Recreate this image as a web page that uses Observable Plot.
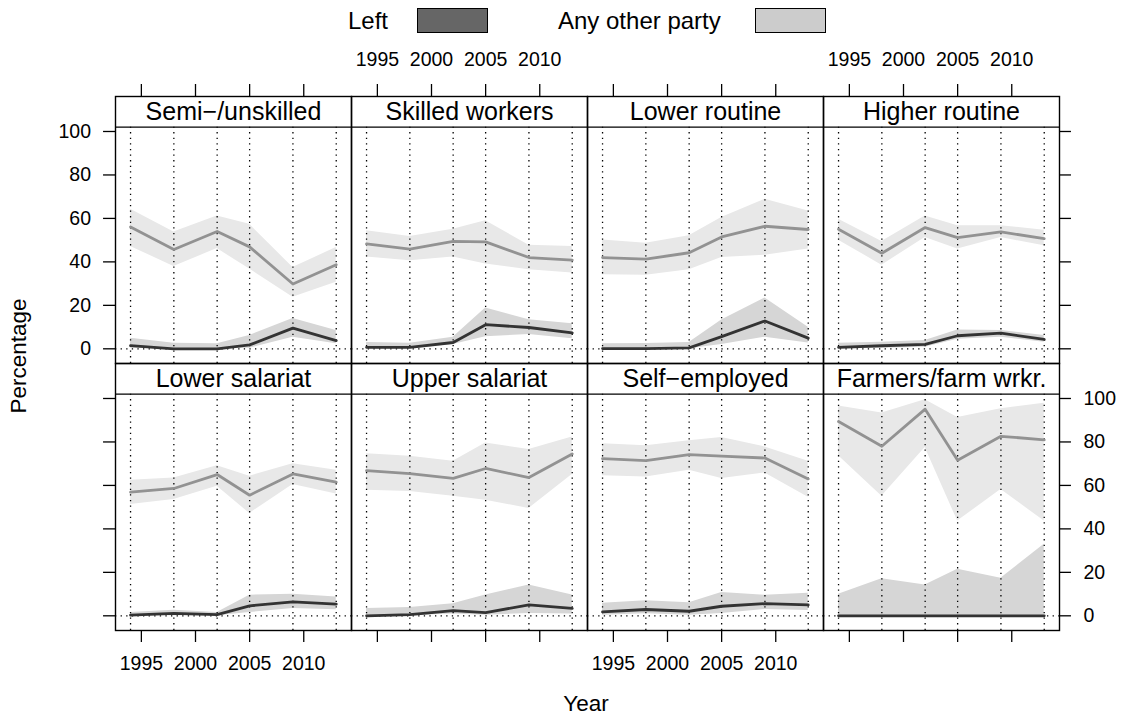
<!DOCTYPE html>
<html><head><meta charset="utf-8">
<script src="https://cdn.jsdelivr.net/npm/d3@7"></script>
<script src="https://cdn.jsdelivr.net/npm/@observablehq/plot@0.6"></script>
<style>
body{margin:0;background:#fff;font-family:"Liberation Sans",Arial,Helvetica,sans-serif;}
#wrap{position:relative;width:1126px;height:717px;overflow:hidden;}
#wrap svg{position:absolute;left:0;top:0;}
.lg{position:absolute;font-size:24px;line-height:25px;color:#000;white-space:nowrap;}
.ax{position:absolute;font-size:22.5px;line-height:24px;color:#000;white-space:nowrap;}
.box{position:absolute;border:1.3px solid #000;box-sizing:border-box;}
</style></head><body><div id="wrap"></div>
<script>
// ---- data ----
const years = [1994, 1998, 2002, 2005, 2009, 2013];
const classes = ["Semi\u2212/unskilled", "Skilled workers", "Lower routine", "Higher routine",
                 "Lower salariat", "Upper salariat", "Self\u2212employed", "Farmers/farm wrkr."];
const parties = ["Left", "Any other party"];
const xTicks = [1995, 2000, 2005, 2010];
const yTicks = [0, 20, 40, 60, 80, 100];

const leftEst = [
  [1.5, 0, 0, 1.8, 9.5, 3.8],
  [0.7, 0.7, 2.9, 11.1, 9.8, 7.3],
  [0.1, 0.1, 0.4, 5.6, 12.8, 4.9],
  [0.7, 1.4, 2.0, 6.0, 7.2, 4.3],
  [0.3, 1.1, 0.5, 4.6, 6.4, 5.4],
  [0, 0.5, 2.4, 1.5, 5.0, 3.4],
  [1.8, 2.9, 2.1, 4.4, 5.6, 5.0],
  [0, 0, 0, 0, 0, 0]
];
const leftLo = [
  [0.3, 0, 0, 0.3, 5.3, 2.3],
  [0, 0, 2.0, 5.6, 6.6, 4.6],
  [0, 0, 0, 2.0, 5.3, 2.7],
  [0, 0.3, 0.7, 4.4, 5.3, 3.0],
  [0, 0, 0, 1.5, 3.4, 2.8],
  [0, 0, 0.8, 0.3, 1.1, 0.8],
  [0.3, 0.9, 0.3, 1.1, 2.9, 2.4],
  [0, 0, 0, 0, 0, 0]
];
const leftHi = [
  [4.9, 2.6, 2.3, 6.1, 14.0, 8.4],
  [2.9, 2.6, 5.3, 18.8, 13.4, 11.5],
  [2.3, 2.4, 2.9, 13.3, 23.4, 9.9],
  [2.6, 3.0, 3.8, 8.7, 8.4, 6.1],
  [1.5, 2.6, 1.5, 9.5, 9.9, 8.7],
  [3.4, 3.8, 5.6, 9.6, 14.2, 9.6],
  [5.8, 6.9, 6.0, 10.7, 9.5, 10.4],
  [9.9, 17.1, 14.2, 21.4, 17.3, 32.9]
];
const otherEst = [
  [56.1, 45.7, 54.0, 46.9, 29.8, 38.7],
  [48.3, 45.9, 49.4, 49.2, 42.0, 40.8],
  [42.0, 41.3, 44.2, 51.5, 56.4, 54.9],
  [55.0, 44.0, 55.8, 51.2, 53.8, 50.7],
  [56.9, 58.6, 65.0, 55.5, 65.3, 61.5],
  [66.8, 65.4, 63.2, 67.8, 63.6, 74.5],
  [72.3, 71.4, 74.2, 73.5, 72.6, 63.0],
  [89.4, 78.0, 95.1, 71.6, 82.6, 81.0]
];
const otherLo = [
  [47.1, 37.9, 46.1, 36.7, 23.7, 30.6],
  [42.3, 40.5, 42.3, 39.0, 36.4, 34.9],
  [34.1, 33.8, 36.4, 42.0, 43.1, 45.9],
  [50.0, 38.5, 51.2, 45.9, 51.2, 47.4],
  [51.2, 53.5, 59.6, 47.1, 60.4, 56.1],
  [57.8, 57.2, 55.0, 53.2, 49.4, 65.0],
  [64.5, 63.9, 67.0, 63.2, 65.7, 54.6],
  [73.7, 55.0, 77.5, 43.6, 58.1, 43.6]
];
const otherHi = [
  [64.2, 53.8, 61.1, 57.3, 37.4, 46.6],
  [54.3, 51.7, 55.0, 58.9, 47.7, 47.1],
  [50.1, 48.6, 52.0, 60.4, 68.8, 63.4],
  [59.6, 49.4, 61.1, 56.6, 56.6, 54.6],
  [62.4, 63.4, 69.1, 64.2, 70.0, 67.0],
  [74.6, 73.4, 71.1, 79.5, 76.5, 82.3],
  [79.2, 78.3, 80.6, 82.1, 77.7, 71.1],
  [96.6, 93.3, 99.4, 91.3, 95.3, 97.8]
];

// ---- build table ----
const rows = [];
classes.forEach((c, i) => {
  years.forEach((yr, j) => {
    rows.push({cls: c, col: i % 4, row: Math.floor(i / 4), year: yr, party: parties[0],
               est: leftEst[i][j], lo: leftLo[i][j], hi: leftHi[i][j]});
    rows.push({cls: c, col: i % 4, row: Math.floor(i / 4), year: yr, party: parties[1],
               est: otherEst[i][j], lo: otherLo[i][j], hi: otherHi[i][j]});
  });
});
const leftRows = rows.filter(d => d.party === parties[0]);
const otherRows = rows.filter(d => d.party === parties[1]);
const panels = classes.map((c, i) => ({cls: c, col: i % 4, row: Math.floor(i / 4)}));

// geometry (scale domains)
const X0 = 1992.61, X1 = 2014.41;
const Y0 = -6.76, YB = 102, Y1 = 116.1;
const pxX = 236.75 / (X1 - X0), pxY = 267.2 / (Y1 - Y0);
const TL = 12; // tick length px

const topT = [], botT = [], leftT = [], rightT = [];
for (let c = 0; c < 4; c++) for (const v of xTicks) {
  topT.push({col: c, row: 0, v, lab: c % 2 === 1});
  botT.push({col: c, row: 1, v, lab: c % 2 === 0});
}
for (let r = 0; r < 2; r++) for (const v of yTicks) {
  leftT.push({col: 0, row: r, v, lab: r === 0});
  rightT.push({col: 3, row: r, v, lab: r === 1});
}

const dotted = {stroke: "#000", strokeWidth: 1.3, strokeDasharray: "1.3,4.3"};
const fs = 19.5;

const chart = Plot.plot({
  width: 1126, height: 717,
  marginLeft: 113, marginRight: 66, marginTop: 95.7, marginBottom: 717 - 630.1,
  x: {domain: [X0, X1], axis: null},
  y: {domain: [Y0, Y1], axis: null},
  fx: {domain: [0, 1, 2, 3], padding: 0, axis: null},
  fy: {domain: [0, 1], padding: 0, axis: null},
  style: {fontFamily: "'Liberation Sans', Arial, Helvetica, sans-serif", background: "white", overflow: "visible"},
  marks: [
    Plot.areaY(otherRows, {x: "year", y1: "lo", y2: "hi", fx: "col", fy: "row", z: "cls", fill: "#e8e8e8"}),
    Plot.areaY(leftRows, {x: "year", y1: "lo", y2: "hi", fx: "col", fy: "row", z: "cls", fill: "#d6d6d6"}),
    Plot.ruleX(years, {x: d => d, y1: Y0, y2: YB, ...dotted}),
    Plot.ruleY([0], {y: d => d, x1: X0, x2: X1, ...dotted}),
    Plot.line(otherRows, {x: "year", y: "est", fx: "col", fy: "row", z: "cls", stroke: "#929292", strokeWidth: 2.8}),
    Plot.line(leftRows, {x: "year", y: "est", fx: "col", fy: "row", z: "cls", stroke: "#333333", strokeWidth: 2.8}),
    Plot.frame({stroke: "#000", strokeWidth: 1.4}),
    Plot.ruleY([YB], {y: d => d, x1: X0, x2: X1, stroke: "#000", strokeWidth: 1.4}),
    Plot.text(panels, {x: (X0 + X1) / 2, y: (YB + Y1) / 2, text: "cls", fx: "col", fy: "row", fontSize: 25, fill: "#000"}),
    // top axis
    Plot.ruleX(topT, {x: "v", y1: Y1, y2: Y1 + TL / pxY, fx: "col", fy: "row", stroke: "#000", strokeWidth: 1.3}),
    Plot.text(topT.filter(d => d.lab), {x: "v", y: Y1, dy: -30.7, lineAnchor: "bottom", text: d => String(d.v), fx: "col", fy: "row", fontSize: fs, fill: "#000"}),
    // bottom axis
    Plot.ruleX(botT, {x: "v", y1: Y0, y2: Y0 - TL / pxY, fx: "col", fy: "row", stroke: "#000", strokeWidth: 1.3}),
    Plot.text(botT.filter(d => d.lab), {x: "v", y: Y0, dy: 33, lineAnchor: "middle", text: d => String(d.v), fx: "col", fy: "row", fontSize: fs, fill: "#000"}),
    // left axis
    Plot.ruleY(leftT, {y: "v", x1: X0, x2: X0 - TL / pxX, fx: "col", fy: "row", stroke: "#000", strokeWidth: 1.3}),
    Plot.text(leftT.filter(d => d.lab), {y: "v", x: X0, dx: -24.5, textAnchor: "end", text: d => String(d.v), fx: "col", fy: "row", fontSize: fs, fill: "#000"}),
    // right axis
    Plot.ruleY(rightT, {y: "v", x1: X1, x2: X1 + TL / pxX, fx: "col", fy: "row", stroke: "#000", strokeWidth: 1.3}),
    Plot.text(rightT.filter(d => d.lab), {y: "v", x: X1, dx: 24, textAnchor: "start", text: d => String(d.v), fx: "col", fy: "row", fontSize: fs, fill: "#000"})
  ]
});

const wrap = document.getElementById("wrap");
wrap.appendChild(chart);

function addDiv(cls, style, text) {
  const d = document.createElement("div");
  d.className = cls;
  Object.assign(d.style, style);
  if (text) d.textContent = text;
  wrap.appendChild(d);
}
// legend
addDiv("lg", {left: "348px", top: "8px"}, parties[0]);
addDiv("box", {left: "417px", top: "8px", width: "71px", height: "25px", background: "#666666"});
addDiv("lg", {left: "558px", top: "8px"}, parties[1]);
addDiv("box", {left: "755px", top: "8px", width: "71px", height: "25px", background: "#cccccc"});
// axis titles
addDiv("ax", {left: "586px", top: "692px", transform: "translateX(-50%)"}, "Year");
addDiv("ax", {left: "19px", top: "356px", transform: "translate(-50%,-50%) rotate(-90deg)"}, "Percentage");
</script></body></html>
